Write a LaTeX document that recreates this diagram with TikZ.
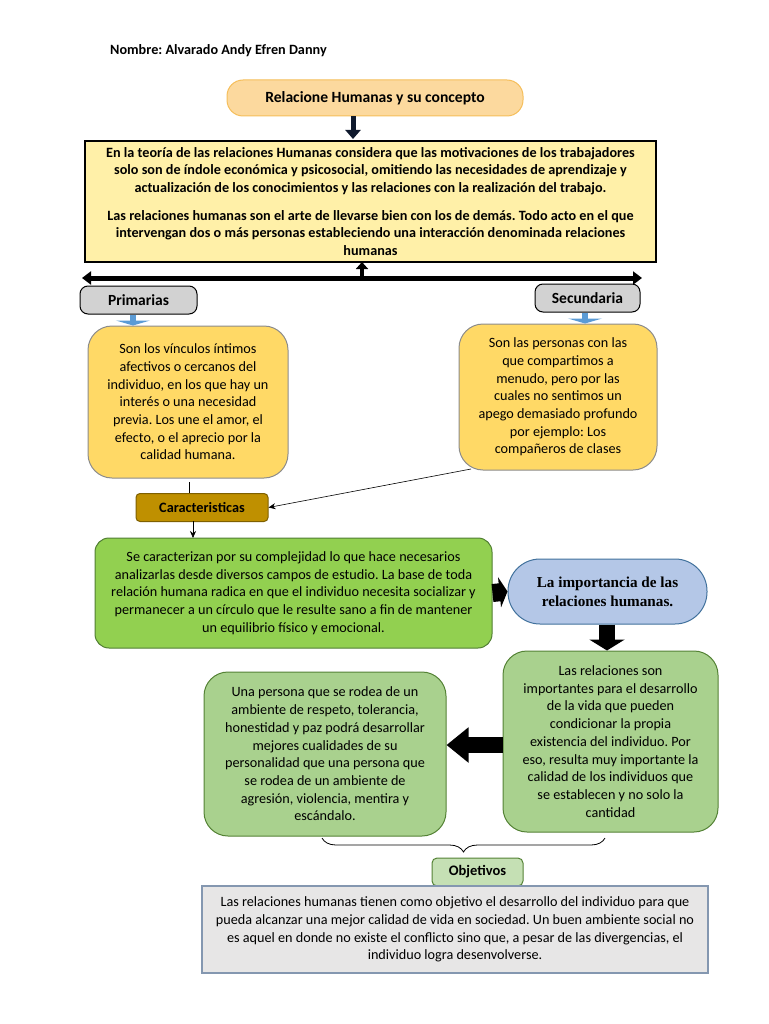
\documentclass[tikz,border=0pt]{standalone}
\usepackage{fontspec}
\setmainfont{Carlito}
\newfontfamily\serifb{Liberation Serif}
\usetikzlibrary{arrows.meta,decorations.pathreplacing}
\definecolor{titlefill}{RGB}{252,217,158}
\definecolor{titledraw}{RGB}{245,190,90}
\definecolor{bigfill}{RGB}{255,240,168}
\definecolor{yel}{RGB}{255,217,102}
\definecolor{yeldraw}{RGB}{140,140,140}
\definecolor{grayfill}{RGB}{210,210,210}
\definecolor{blueA}{RGB}{91,155,213}
\definecolor{carfill}{RGB}{191,144,0}
\definecolor{cardraw}{RGB}{127,96,0}
\definecolor{grn}{RGB}{146,208,80}
\definecolor{grndraw}{RGB}{80,126,50}
\definecolor{lgrn}{RGB}{169,209,142}
\definecolor{lgrndraw}{RGB}{84,130,53}
\definecolor{bluefill}{RGB}{180,199,231}
\definecolor{bluedraw}{RGB}{65,113,156}
\definecolor{objfill}{RGB}{197,224,180}
\definecolor{botfill}{RGB}{231,230,230}
\definecolor{botdraw}{RGB}{132,151,176}
\definecolor{navy}{RGB}{15,25,45}
\frenchspacing
\begin{document}
\begin{tikzpicture}[x=1pt,y=-1pt,
  every node/.style={inner sep=0pt, align=center},
  txt/.style={font=\fontsize{14.2}{17.7}\selectfont},
  boldtxt/.style={font=\fontsize{14.2}{17.3}\selectfont\bfseries},
  lbl/.style={font=\fontsize{#1}{18}\selectfont\bfseries},
  rbox/.style={draw, rounded corners=#1},
  rbox/.default=6pt,
  thin arrow/.style={draw=black, line width=0.6pt, -{Stealth[length=7pt,width=6pt]}}]
\useasboundingbox (0,0) rectangle (768,1024);

% header
\node[anchor=west, lbl=14.2] (nombre) at (110,51) {Nombre: Alvarado Andy Efren Danny};

% title
\node[rbox=16pt, draw=titledraw, fill=titlefill, line width=1pt, minimum width=296pt, minimum height=36pt, lbl=15.6] (title) at (375,98) {Relacione Humanas y su concepto};

% big box
\node[draw=black, line width=2pt, fill=bigfill, minimum width=571pt, minimum height=121pt, boldtxt] (big) at (370.5,201.5)
{En la teoría de las relaciones Humanas considera que las motivaciones de los trabajadores\\
solo son de índole económica y psicosocial, omitiendo las necesidades de aprendizaje y\\
actualización de los conocimientos y las relaciones con la realización del trabajo.\\[11pt]
Las relaciones humanas son el arte de llevarse bien con los de demás. Todo acto en el que\\
intervengan dos o más personas estableciendo una interacción denominada relaciones\\
humanas};

\draw[navy, line width=5pt, -{Triangle[length=9pt,width=15pt]}] (title.south -| 353,0) -- (353,139);

% horizontal double arrow
\coordinate (hl) at (82,278);
\coordinate (hr) at (642,278);
\coordinate (hm) at (362,279);
\draw[black, line width=5pt, {Triangle[length=9pt,width=13pt]}-{Triangle[length=9pt,width=13pt]}] (hl) -- (hr);
\draw[black, line width=4pt, -{Triangle[length=7pt,width=12pt]}] (hm) -- (362,262);

% Primarias / Secundaria
\node[rbox=8pt, draw=black, line width=1pt, fill=grayfill, minimum width=117pt, minimum height=28pt, lbl=15.5] (prim) at (138.5,300) {Primarias};
\node[rbox=8pt, draw=black, line width=1pt, fill=grayfill, minimum width=105pt, minimum height=28pt, lbl=15.5] (sec) at (587.5,298) {Secundaria};

% yellow boxes
\node[rbox=24pt, draw=yeldraw, line width=1pt, fill=yel, minimum width=200pt, minimum height=152pt, txt] (ly) at (188,402)
{Son los vínculos íntimos\\ afectivos o cercanos del\\ individuo, en los que hay un\\ interés o una necesidad\\ previa. Los une el amor, el\\ efecto, o el aprecio por la\\ calidad humana.};
\node[rbox=24pt, draw=yeldraw, line width=1pt, fill=yel, minimum width=198pt, minimum height=146pt, txt] (ry) at (558,397)
{Son las personas con las\\ que compartimos a\\ menudo, pero por las\\ cuales no sentimos un\\ apego demasiado profundo\\ por ejemplo: Los\\ compañeros de clases};

% blue small arrows
\draw[blueA, line width=6pt, -{Triangle[length=5pt,width=34pt]}] (prim.south -| 133,0) -- (ly.north -| 133,0);
\draw[blueA, line width=6pt, -{Triangle[length=5pt,width=34pt]}] (sec.south -| 585,0) -- (ry.north -| 585,0);

% Caracteristicas
\node[rbox=4pt, draw=cardraw, line width=1pt, fill=carfill, minimum width=132pt, minimum height=28pt, lbl=14.3] (car) at (202,507.5) {Caracteristicas};

\coordinate (lyb) at (189,482);
\coordinate (carn) at (189,493);
\draw[black, line width=0.6pt] (lyb) -- (carn);
\coordinate (rys) at (471,469);
\draw[thin arrow] (rys) -- (car.east);

% green box
\node[rbox=14pt, draw=grndraw, line width=1pt, fill=grn, minimum width=397pt, minimum height=110pt, txt] (green) at (293.5,593)
{Se caracterizan por su complejidad lo que hace necesarios\\
analizarlas desde diversos campos de estudio. La base de toda\\
relación humana radica en que el individuo necesita socializar y\\
permanecer a un círculo que le resulte sano a fin de mantener\\
un equilibrio físico y emocional.};
\coordinate (cars) at (193,521);
\coordinate (grnn) at (193,538);
\draw[thin arrow] (cars) -- (grnn);

% blue stadium
\node[rbox=32pt, draw=bluedraw, line width=1pt, fill=bluefill, minimum width=199pt, minimum height=65pt, font=\fontsize{15.2}{19}\selectfont\serifb\bfseries] (imp) at (607.5,591.5)
{La importancia de las\\ relaciones humanas.};

\draw[black, line width=18pt, -{Triangle[length=8pt,width=30pt]}] (green.east) -- (imp.west);

% right light green
\node[rbox=24pt, draw=lgrndraw, line width=1pt, fill=lgrn, minimum width=215pt, minimum height=181pt, txt] (rg) at (610.5,741.5)
{Las relaciones son\\ importantes para el desarrollo\\ de la vida que pueden\\ condicionar la propia\\ existencia del individuo. Por\\ eso, resulta muy importante la\\ calidad de los individuos que\\ se establecen y no solo la\\ cantidad};
\draw[black, line width=16pt, -{Triangle[length=11pt,width=35pt]}] (imp.south -| 607,0) -- (rg.north -| 607,0);

% left light green
\node[rbox=24pt, draw=lgrndraw, line width=1pt, fill=lgrn, minimum width=242pt, minimum height=164pt, txt] (lg) at (325,754)
{Una persona que se rodea de un\\ ambiente de respeto, tolerancia,\\ honestidad y paz podrá desarrollar\\ mejores cualidades de su\\ personalidad que una persona que\\ se rodea de un ambiente de\\ agresión, violencia, mentira y\\ escándalo.};
\draw[black, line width=16pt, -{Triangle[length=22pt,width=34pt]}] (rg.west |- 0,745) -- (lg.east |- 0,745);

% brace
\coordinate (bl) at (322,838);
\coordinate (br) at (605,838);
\draw[black, line width=0.8pt, decorate, decoration={brace, amplitude=14pt, mirror}] (bl) -- (br);

% Objetivos
\node[rbox=5pt, draw=lgrndraw, line width=1pt, fill=objfill, minimum width=91pt, minimum height=28pt, lbl=14.5] (obj) at (477.5,872) {Objetivos};

% bottom box
\node[draw=botdraw, line width=1.5pt, fill=botfill, minimum width=506pt, minimum height=87pt, txt] (bot) at (455,929.5)
{Las relaciones humanas tienen como objetivo el desarrollo del individuo para que\\
pueda alcanzar una mejor calidad de vida en sociedad. Un buen ambiente social no\\
es aquel en donde no existe el conflicto sino que, a pesar de las divergencias, el\\
individuo logra desenvolverse.};
\end{tikzpicture}
\end{document}
